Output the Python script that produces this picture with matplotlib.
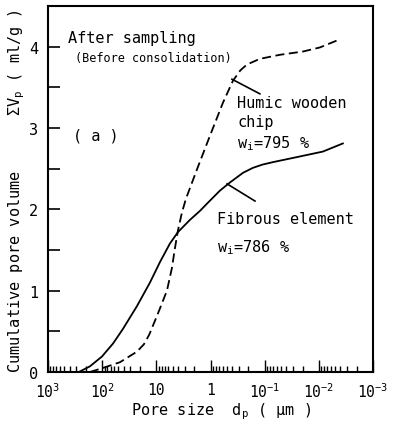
import numpy as np
import matplotlib
matplotlib.use("Agg")
import matplotlib.pyplot as plt
from matplotlib.ticker import LogLocator, FixedLocator, FixedFormatter, NullFormatter, MultipleLocator

plt.rcParams['font.family'] = ['DejaVu Sans Mono']
plt.rcParams['mathtext.fontset'] = 'custom'
plt.rcParams['mathtext.rm'] = 'DejaVu Sans Mono'
plt.rcParams['mathtext.it'] = 'DejaVu Sans Mono'
plt.rcParams['mathtext.bf'] = 'DejaVu Sans Mono:bold'

# Fibrous element (solid): pore size (um) and cumulative pore volume (ml/g)
fib_d = [269, 168, 101, 63, 41.3, 22.8, 13.1, 8.59, 5.61, 3.99, 2.40, 1.57, 1.16,
         0.67, 0.438, 0.25, 0.165, 0.11, 0.0706, 0.0224, 0.00843, 0.0036]
fib_v = [0.0, 0.07, 0.19, 0.35, 0.53, 0.81, 1.10, 1.35, 1.58, 1.72, 1.87, 1.98, 2.07,
         2.23, 2.33, 2.45, 2.51, 2.55, 2.58, 2.65, 2.71, 2.81]

# Humic wooden chip (dashed)
hum_d = [168, 96.6, 47, 22.8, 17, 13.5, 9.33, 6.37, 5.15, 4.54, 3.99, 3.37, 2.84, 1.78,
         1.03, 0.59, 0.386, 0.28, 0.213, 0.123, 0.0525, 0.0197, 0.0096, 0.0041]
hum_v = [0.0, 0.05, 0.12, 0.25, 0.34, 0.46, 0.72, 1.00, 1.28, 1.52, 1.74, 1.96, 2.13, 2.49,
         2.90, 3.31, 3.58, 3.71, 3.78, 3.85, 3.90, 3.94, 3.99, 4.09]

x_ticks = [1e3, 1e2, 1e1, 1e0, 1e-1, 1e-2, 1e-3]
x_tick_labels = ['$10^{3}$', '$10^{2}$', '10', '1', '$10^{-1}$', '$10^{-2}$', '$10^{-3}$']
y_ticks = [0, 1, 2, 3, 4]

fig = plt.figure(figsize=(3.93, 4.35), dpi=100)
ax = fig.add_axes([48/393, 1-373/435, 325/393, 366/435])

ax.plot(fib_d, fib_v, color='black', lw=1.3, solid_joinstyle='round')
ax.plot(hum_d, hum_v, color='black', lw=1.3, dashes=(5, 2.5))

ax.set_xscale('log')
ax.set_xlim(1e3, 1e-3)
ax.set_ylim(0, 4.5)

ax.xaxis.set_major_locator(FixedLocator(x_ticks))
ax.xaxis.set_major_formatter(FixedFormatter(x_tick_labels))
ax.xaxis.set_minor_locator(LogLocator(base=10, subs=np.arange(2, 10), numticks=20))
ax.xaxis.set_minor_formatter(NullFormatter())
ax.yaxis.set_major_locator(FixedLocator(y_ticks))
ax.yaxis.set_minor_locator(MultipleLocator(0.5))

ax.tick_params(axis='x', which='major', direction='in', length=9, width=1.0, pad=7, labelsize=10.5)
ax.tick_params(axis='x', which='minor', direction='in', length=4, width=1.0)
ax.tick_params(axis='y', which='both', direction='in', length=8.5, width=1.2, pad=7, labelsize=11)
for s in ax.spines.values():
    s.set_linewidth(1.5)

tr = ax.transAxes
ax.text(0.0615, 0.902, 'After sampling', transform=tr, fontsize=11, va='baseline')
ax.text(0.083, 0.85, '(Before consolidation)', transform=tr, fontsize=8.5, va='baseline')
ax.text(0.077, 0.634, '( a )', transform=tr, fontsize=11, va='baseline')
ax.text(0.582, 0.724, 'Humic wooden', transform=tr, fontsize=11, va='baseline')
ax.text(0.582, 0.672, 'chip', transform=tr, fontsize=11, va='baseline')
ax.text(0.582, 0.615, 'w$_\\mathrm{i}$=795 %', transform=tr, fontsize=11, va='baseline')
ax.text(0.52, 0.407, 'Fibrous element', transform=tr, fontsize=11, va='baseline')
ax.text(0.52, 0.33, 'w$_\\mathrm{i}$=786 %', transform=tr, fontsize=11, va='baseline')

ax.plot([0.566, 0.652], [0.80, 0.76], transform=tr, color='black', lw=1.2)
ax.plot([0.551, 0.637], [0.514, 0.467], transform=tr, color='black', lw=1.2)

fig.text(221/393, 1-415/435, 'Pore size  d$_\\mathrm{p}$ ( \u03bcm )', fontsize=11, ha='center', va='baseline')
fig.text(17/393, 1-191/435, 'Cumulative pore volume      \u03a3V$_\\mathrm{p}$ ( ml/g )',
         fontsize=11, rotation=90, ha='center', va='center')

fig.savefig('out.png', dpi=100)
